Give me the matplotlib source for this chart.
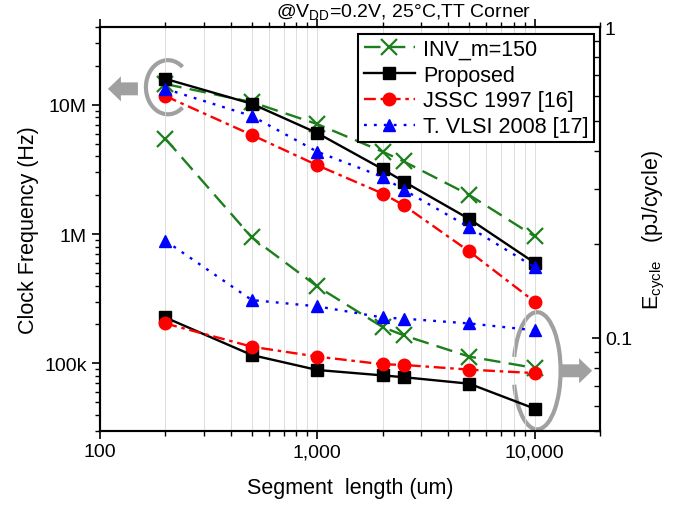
import numpy as np
import matplotlib
matplotlib.use('Agg')
import matplotlib.pyplot as plt
from matplotlib.patches import Arc, FancyArrow
from matplotlib.ticker import FixedLocator, FixedFormatter, LogLocator, NullFormatter

plt.rcParams['font.family'] = ['Liberation Sans', 'DejaVu Sans']

# Segment length (um)
length = [200, 500, 1000, 2000, 2500, 5000, 10000]

# Clock frequency (Hz), left axis
freq_inv = [14.5e6, 10.5e6, 7.1e6, 4.34e6, 3.65e6, 2.01e6, 0.96e6]
freq_prop = [15.9e6, 10.2e6, 6.05e6, 3.18e6, 2.55e6, 1.31e6, 0.60e6]
freq_jssc = [11.7e6, 5.85e6, 3.41e6, 2.06e6, 1.67e6, 0.735e6, 0.30e6]
freq_vlsi = [13.3e6, 8.2e6, 4.34e6, 2.77e6, 2.2e6, 1.13e6, 0.555e6]

# Energy per cycle (pJ/cycle), right axis
e_inv = [0.437, 0.21, 0.146, 0.108, 0.1016, 0.0868, 0.0798]
e_prop = [0.116, 0.0878, 0.0786, 0.0755, 0.0745, 0.071, 0.059]
e_jssc = [0.111, 0.0934, 0.0868, 0.082, 0.0816, 0.0788, 0.0768]
e_vlsi = [0.205, 0.132, 0.126, 0.116, 0.115, 0.111, 0.1055]

labels = ['INV_m=150', 'Proposed', 'JSSC 1997 [16]', 'T. VLSI 2008 [17]']

green = '#1c7f1c'
styles = [
    dict(color=green, ls=(0, (7, 3.5)), marker='x', ms=11, mew=1.6),
    dict(color='black', ls='-', marker='s', ms=8),
    dict(color='red', ls=(0, (5, 2, 1.5, 2)), marker='o', ms=9),
    dict(color='blue', ls=(0, (1.2, 3)), marker='^', ms=9),
]

fig = plt.figure(figsize=(6.89, 5.1), dpi=100)
ax = fig.add_axes([0.145, 0.153, 0.726, 0.792])
ax2 = ax.twinx()

freqs = [freq_inv, freq_prop, freq_jssc, freq_vlsi]
energies = [e_inv, e_prop, e_jssc, e_vlsi]
handles = []
for f, e, lab, st in zip(freqs, energies, labels, styles):
    h, = ax.plot(length, f, lw=1.7, label=lab, **st)
    ax2.plot(length, e, lw=1.7, **st)
    handles.append(h)

ax.set_xscale('log')
ax.set_yscale('log')
ax2.set_yscale('log')
ax.set_xlim(100, 20000)
ax.set_ylim(3e4, 4e7)
ax2.set_ylim(0.05, 1)

ax.xaxis.set_major_locator(FixedLocator([100, 1000, 10000]))
ax.xaxis.set_major_formatter(FixedFormatter(['100', '1,000', '10,000']))
ax.xaxis.set_minor_locator(LogLocator(base=10, subs=np.arange(2, 10)))
ax.xaxis.set_minor_formatter(NullFormatter())
ax.yaxis.set_major_locator(FixedLocator([1e5, 1e6, 1e7]))
ax.yaxis.set_major_formatter(FixedFormatter(['100k', '1M', '10M']))
ax.yaxis.set_minor_locator(LogLocator(base=10, subs=np.arange(2, 10)))
ax.yaxis.set_minor_formatter(NullFormatter())
ax2.yaxis.set_major_locator(FixedLocator([0.1, 1]))
ax2.yaxis.set_major_formatter(FixedFormatter(['0.1', '1']))
ax2.yaxis.set_minor_locator(LogLocator(base=10, subs=np.arange(2, 10)))
ax2.yaxis.set_minor_formatter(NullFormatter())

ax.grid(True, which='both', axis='x', color='#d8d8d8', lw=0.6)
ax.tick_params(axis='x', which='both', direction='out', top=True, labelsize=14, pad=3)
ax.tick_params(axis='y', which='both', direction='out', labelsize=14)
ax.tick_params(which='major', length=6, width=1.2)
ax.tick_params(which='minor', length=3.5, width=1)
ax2.tick_params(axis='y', which='both', direction='in', labelsize=14)
ax2.tick_params(which='major', length=6, width=1.2)
ax2.tick_params(which='minor', length=4, width=1)
for a in (ax, ax2):
    for s in a.spines.values():
        s.set_linewidth(1.5)

ax.set_xlabel('Segment  length (um)', fontsize=15.5, labelpad=12)
ax.set_ylabel('Clock Frequency (Hz)', fontsize=15.5)
ax2.set_ylabel('E$_{\\mathregular{cycle}}$   (pJ/cycle)', fontsize=15.5, labelpad=6)

ax.text(0.862, 1.012, '@V$_{\\mathregular{DD}}$=0.2V, 25\u00b0C,TT Corner',
        transform=ax.transAxes, ha='right', va='bottom', fontsize=14)

leg = ax2.legend(handles, labels, loc='upper right', bbox_to_anchor=(1, 1),
                 fontsize=15.5, frameon=True, fancybox=False, edgecolor='black',
                 framealpha=1, handlelength=2.4, borderpad=0.25, labelspacing=0.22,
                 handletextpad=0.35, borderaxespad=0.3)
leg.get_frame().set_linewidth(1.5)

# grey markers that tie each group to its axis
grey = '#a0a0a0'
ax.add_patch(Arc((0.136, 0.851), 0.088, 0.134, theta1=60, theta2=300,
                 transform=ax.transAxes, color=grey, lw=3, clip_on=False))
ax.add_patch(Arc((0.874, 0.149), 0.094, 0.29, theta1=-143, theta2=143,
                 transform=ax.transAxes, color=grey, lw=3, clip_on=False))
ax.add_patch(FancyArrow(0.076, 0.847, -0.06, 0, width=0.032, head_width=0.062,
                        head_length=0.026, length_includes_head=True,
                        transform=ax.transAxes, color=grey, lw=0, clip_on=False))
ax.add_patch(FancyArrow(0.92, 0.149, 0.064, 0, width=0.032, head_width=0.062,
                        head_length=0.026, length_includes_head=True,
                        transform=ax.transAxes, color=grey, lw=0, clip_on=False))

fig.savefig('out.png', dpi=100)
